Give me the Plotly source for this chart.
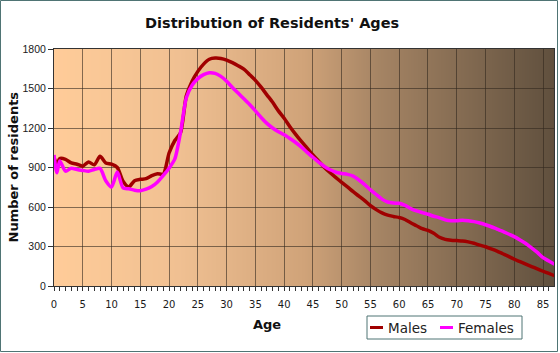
import base64
import struct
import zlib

import plotly.graph_objects as go

# ---------------- data ----------------
ages = [0, 0.5, 1, 2, 3, 4, 5, 6, 7, 8, 9, 10, 11, 12, 13, 14, 15, 16, 17, 18, 19,
        20, 21, 22, 23, 24, 25, 26, 27, 28, 29, 30, 31, 32, 33, 34, 35, 36, 37, 38,
        39, 40, 41, 42, 43, 44, 45, 46, 47, 48, 49, 50, 51, 52, 53, 54, 55, 56, 57,
        58, 59, 60, 61, 62, 63, 64, 65, 66, 67, 68, 69, 70, 71, 72, 73, 74, 75, 76,
        77, 78, 79, 80, 81, 82, 83, 84, 85, 86, 87]

males = [975, 927, 968, 962, 935, 925, 910, 942, 920, 985, 935, 925, 900, 795, 752, 800,
         810, 815, 838, 852, 850, 1010, 1105, 1165, 1445, 1555, 1630, 1685, 1722, 1731,
         1728, 1716, 1696, 1673, 1647, 1605, 1562, 1510, 1452, 1395, 1330, 1274, 1210,
         1152, 1098, 1048, 995, 948, 900, 860, 823, 787, 752, 716, 682, 648, 610, 580,
         555, 538, 528, 520, 505, 480, 458, 435, 422, 400, 370, 354, 348, 345, 342, 335,
         325, 310, 298, 282, 265, 245, 225, 203, 185, 166, 148, 130, 112, 95, 78]

females = [995, 860, 950, 872, 895, 885, 878, 872, 885, 893, 800, 752, 865, 745, 738, 728,
           724, 735, 755, 790, 840, 895, 965, 1170, 1430, 1525, 1575, 1605, 1620, 1615,
           1592, 1555, 1508, 1465, 1422, 1378, 1330, 1280, 1235, 1200, 1172, 1148, 1120,
           1090, 1055, 1015, 978, 940, 908, 883, 864, 855, 848, 835, 805, 770, 730, 695,
           660, 638, 630, 628, 612, 588, 570, 557, 545, 530, 518, 502, 495, 496, 500, 496,
           489, 478, 465, 450, 432, 415, 395, 375, 350, 323, 290, 255, 215, 190, 165]

series_names = ["Males", "Females"]
x_ticks = [0, 5, 10, 15, 20, 25, 30, 35, 40, 45, 50, 55, 60, 65, 70, 75, 80, 85]
y_ticks = [0, 300, 600, 900, 1200, 1500, 1800]

# ---------------- styling ----------------
MALE_C = "#a00000"
FEMALE_C = "#ff00ff"
FRAME_C = "#4f7474"
W, H = 560, 353
L, R, T, B = 54, 6, 49, 67


def px_x(px):
    return (px - L) / (W - L - R)


def px_y(py):
    return (H - B - py) / (H - T - B)


# gradient background as a small PNG (1 px tall, stretched over the plot area)
stops = [(0.0, (255, 204, 153)), (0.25, (240, 192, 146)), (0.5, (208, 163, 121)),
         (0.65, (165, 132, 100)), (1.0, (96, 80, 62))]


def grad(t):
    for (t0, c0), (t1, c1) in zip(stops[:-1], stops[1:]):
        if t <= t1:
            f = (t - t0) / (t1 - t0)
            return tuple(round(a + (b - a) * f) for a, b in zip(c0, c1))
    return stops[-1][1]


def png_data_uri(width, height):
    row = bytearray([0])
    for i in range(width):
        row.extend(grad((i + 0.5) / width))
    raw = bytes(row) * height

    def chunk(tag, data):
        c = struct.pack(">I", len(data)) + tag + data
        return c + struct.pack(">I", zlib.crc32(tag + data) & 0xffffffff)

    png = b"\x89PNG\r\n\x1a\n"
    png += chunk(b"IHDR", struct.pack(">IIBBBBB", width, height, 8, 2, 0, 0, 0))
    png += chunk(b"IDAT", zlib.compress(raw, 9))
    png += chunk(b"IEND", b"")
    return "data:image/png;base64," + base64.b64encode(png).decode()


fig = go.Figure()
fig.add_trace(go.Scatter(x=ages, y=males, name=series_names[0], mode="lines",
                         line=dict(color=MALE_C, width=3.5, shape="spline", smoothing=0.7),
                         showlegend=False))
fig.add_trace(go.Scatter(x=ages, y=females, name=series_names[1], mode="lines",
                         line=dict(color=FEMALE_C, width=3.5, shape="spline", smoothing=0.7),
                         showlegend=False))

shapes = [
    # outer frame
    dict(type="rect", xref="paper", yref="paper", x0=px_x(0.5), x1=px_x(557.5),
         y0=px_y(351.5), y1=px_y(0.5), line=dict(color=FRAME_C, width=1)),
    # legend box
    dict(type="rect", xref="paper", yref="paper", x0=px_x(367), x1=px_x(522),
         y0=px_y(339), y1=px_y(316), line=dict(color=FRAME_C, width=1), fillcolor="white"),
    dict(type="line", xref="paper", yref="paper", x0=px_x(370), x1=px_x(383),
         y0=px_y(327.5), y1=px_y(327.5), line=dict(color=MALE_C, width=3)),
    dict(type="line", xref="paper", yref="paper", x0=px_x(440), x1=px_x(453),
         y0=px_y(327.5), y1=px_y(327.5), line=dict(color=FEMALE_C, width=3)),
]

annotations = [
    dict(text="Distribution of Residents' Ages", xref="paper", yref="paper",
         x=px_x(272), y=px_y(23), xanchor="center", yanchor="middle", showarrow=False,
         font=dict(family="DejaVu Sans", size=14.5, color="#111", weight="bold")),
    dict(text="Age", xref="paper", yref="paper", x=px_x(267), y=px_y(324),
         xanchor="center", yanchor="middle", showarrow=False,
         font=dict(family="DejaVu Sans", size=13, color="#111", weight="bold")),
    dict(text="Number of residents", xref="paper", yref="paper", x=px_x(12.5), y=px_y(167),
         xanchor="center", yanchor="middle", showarrow=False, textangle=-90,
         font=dict(family="DejaVu Sans", size=13, color="#111", weight="bold")),
    dict(text=series_names[0], xref="paper", yref="paper", x=px_x(386), y=px_y(327.5),
         xanchor="left", yanchor="middle", showarrow=False,
         font=dict(family="DejaVu Sans", size=13.5, color="#222")),
    dict(text=series_names[1], xref="paper", yref="paper", x=px_x(456), y=px_y(327.5),
         xanchor="left", yanchor="middle", showarrow=False,
         font=dict(family="DejaVu Sans", size=13.5, color="#222")),
]

GRID_C = "rgba(50,40,30,0.6)"
fig.update_layout(
    width=W, height=H, autosize=False,
    margin=dict(l=L, r=R, t=T, b=B, pad=0),
    paper_bgcolor="white", plot_bgcolor="rgba(0,0,0,0)",
    shapes=shapes, annotations=annotations, showlegend=False,
    images=[dict(source=png_data_uri(500, 2), xref="paper", yref="paper", x=0, y=1,
                 sizex=1, sizey=1, sizing="stretch", xanchor="left", yanchor="top",
                 layer="below")],
    xaxis=dict(range=[0, 86.9], tickmode="array", tickvals=x_ticks,
               ticktext=[str(v) for v in x_ticks], showgrid=True, gridcolor=GRID_C,
               gridwidth=1, zeroline=False, showline=True, linecolor="#333", linewidth=1,
               mirror=True, ticks="outside", ticklen=4, tickcolor="#333",
               ticklabelstandoff=5,
               minor=dict(dtick=1, tick0=0, ticks="outside", ticklen=4, tickcolor="#333",
                          showgrid=False),
               tickfont=dict(family="DejaVu Sans", size=10, color="#1a1a1a")),
    yaxis=dict(range=[0, 1800], tickmode="array", tickvals=y_ticks,
               ticktext=[str(v) for v in y_ticks], showgrid=True, gridcolor=GRID_C,
               gridwidth=1, zeroline=False, showline=True, linecolor="#333", linewidth=1,
               mirror=True, ticks="outside", ticklen=5, tickcolor="#333",
               tickfont=dict(family="Liberation Sans", size=10.5, color="#1a1a1a")),
)

fig.write_html("out.html")
